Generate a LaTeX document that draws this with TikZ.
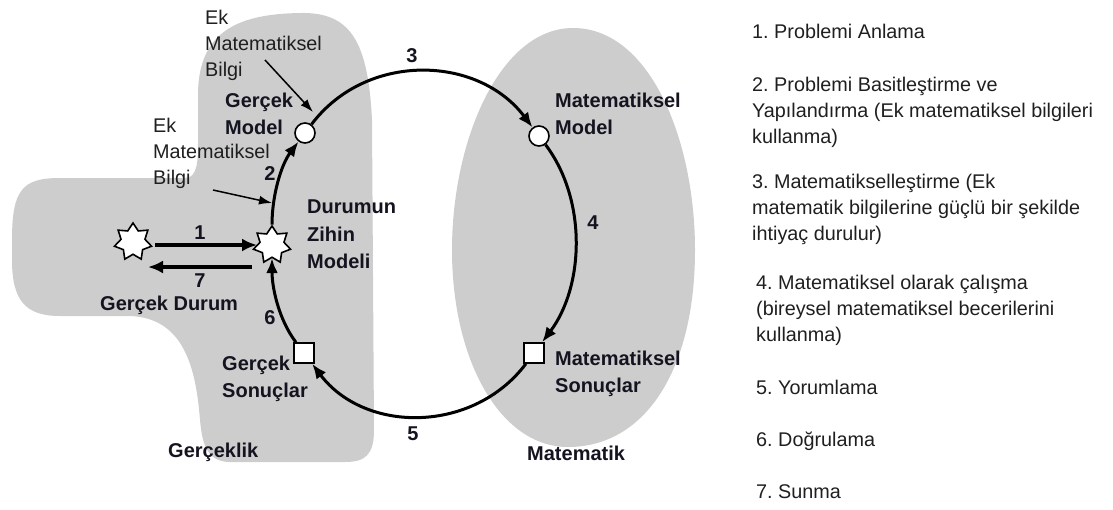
\documentclass[tikz,border=0pt]{standalone}
\usepackage{fontspec}
\setmainfont{Liberation Sans}
\usetikzlibrary{arrows.meta,shapes.geometric}
\definecolor{regionfill}{HTML}{CDCDCD}
\definecolor{inkdark}{HTML}{141420}
\frenchspacing
\begin{document}
\begin{tikzpicture}[x=1pt,y=1pt,
  region/.style={fill=regionfill,draw=none},
  lbl/.style={font=\fontsize{20}{27.5}\selectfont\bfseries,inner sep=0pt,align=left,text=inkdark},
  num/.style={font=\fontsize{20}{24}\selectfont\bfseries,inner sep=0pt,anchor=base,text=inkdark},
  note/.style={font=\fontsize{19.8}{26.3}\selectfont,inner sep=0pt,align=left,text=black!88},
  flow/.style={line width=3pt,-{Latex[length=15pt,width=12pt]}},
  side/.style={line width=3.6pt,-{Latex[length=15pt,width=13pt]}},
  hint/.style={line width=1.5pt,-{Latex[length=13pt,width=9pt]}},
  ring/.style={circle,draw,fill=white,line width=1.6pt,minimum size=20pt,inner sep=0pt},
  boxn/.style={rectangle,draw,fill=white,line width=1.6pt,minimum size=20pt,inner sep=0pt},
  spark/.style={star,star points=7,star point ratio=1.55,draw,fill=white,line width=1.6pt,minimum size=38pt,inner sep=0pt},
]
\useasboundingbox (0,0) rectangle (1113,-509);

% reality region
\fill[region] (12,-240)
  .. controls (12,-190) and (22,-178) .. (60,-178)
  -- (185,-178)
  .. controls (198,-178) and (198,-160) .. (198,-140)
  -- (198,-95)
  .. controls (198,-30) and (240,-14) .. (300,-13)
  .. controls (350,-12) and (368,-40) .. (372,-120)
  -- (374,-430)
  .. controls (374,-455) and (365,-462) .. (345,-462)
  -- (230,-462)
  .. controls (205,-462) and (202,-440) .. (200,-420)
  .. controls (196,-370) and (185,-318) .. (130,-316)
  -- (60,-316)
  .. controls (25,-316) and (12,-300) .. (12,-260)
  -- cycle;

% mathematics region
\fill[region] (573,-28)
  .. controls (650,-28) and (695,-140) .. (695,-250)
  .. controls (695,-370) and (645,-447) .. (568,-447)
  .. controls (500,-447) and (452,-360) .. (452,-250)
  .. controls (452,-140) and (500,-28) .. (573,-28);

% stages of the cycle
\node[spark] (ls) at (133,-242) {};
\node[spark] (rs) at (272,-245) {};
\node[ring] (gm) at (305,-133) {};
\node[ring] (mm) at (539,-136) {};
\node[boxn] (ms) at (534,-353) {};
\node[boxn] (gs) at (304,-353) {};

% labels
\node[lbl,anchor=north west] (tgm) at (225,-92.6) {Gerçek\\Model};
\node[lbl,anchor=north west] (trs) at (307,-199.6) {Durumun\\Zihin\\Modeli};
\node[lbl,anchor=base west] (tls) at (100,-310) {Gerçek Durum};
\node[lbl,anchor=north west] (tgs) at (222,-355.6) {Gerçek\\Sonuçlar};
\node[lbl,anchor=base west] (treal) at (168,-457) {Gerçeklik};
\node[lbl,anchor=north west] (tmm) at (555,-92.6) {Matematiksel\\Model};
\node[lbl,anchor=north west] (tms) at (555,-350.6) {Matematiksel\\Sonuçlar};
\node[lbl,anchor=base west] (tmath) at (527,-460) {Matematik};

\node[note,anchor=north west] (ek1) at (205,-9.8) {Ek\\Matematiksel\\Bilgi};
\node[note,anchor=north west] (ek2) at (153,-117.8) {Ek\\Matematiksel\\Bilgi};

% step numbers
\node[num] (n1) at (200,-239) {1};
\node[num] (n2) at (270,-180) {2};
\node[num] (n3) at (412,-62) {3};
\node[num] (n4) at (593,-229) {4};
\node[num] (n5) at (413,-440) {5};
\node[num] (n6) at (270,-324) {6};
\node[num] (n7) at (200,-287) {7};

% connectors
\draw[side] ([shift={(22,-3)}]ls.center) -- ([shift={(-15,0)}]rs.center);
\draw[side] ([shift={(-20,-22)}]rs.center) -- ([shift={(15,-25)}]ls.center);
\draw[flow] (rs) to[out=90,in=233,looseness=0.85] (gm);
\draw[flow] (gm) to[out=53,in=127,looseness=1.05] (mm);
\draw[flow] (mm) to[out=-53,in=53,looseness=0.9] (ms);
\draw[flow] (ms) to[out=233,in=-53,looseness=1.05] (gs);
\draw[flow] (gs) to[out=127,in=270,looseness=0.85] (rs);

\coordinate (e1a) at (265,-60);
\coordinate (e1b) at (313,-112);
\coordinate (e2a) at (213,-190);
\coordinate (e2b) at (272,-203);
\draw[hint] (e1a) -- (e1b);
\draw[hint] (e2a) -- (e2b);

% legend of the steps
\node[note,anchor=base west] (s1) at (752,-38) {1. Problemi Anlama};
\node[note,anchor=north west] (s2) at (752,-76.8) {2. Problemi Basitleştirme ve\\Yapılandırma (Ek matematiksel bilgileri\\kullanma)};
\node[note,anchor=north west] (s3) at (752,-173.8) {3. Matematikselleştirme (Ek\\matematik bilgilerine güçlü bir şekilde\\ihtiyaç durulur)};
\node[note,anchor=north west] (s4) at (756,-274.8) {4. Matematiksel olarak çalışma\\(bireysel matematiksel becerilerini\\kullanma)};
\node[note,anchor=base west] (s5) at (756,-394) {5. Yorumlama};
\node[note,anchor=base west] (s6) at (756,-446) {6. Doğrulama};
\node[note,anchor=base west] (s7) at (756,-498) {7. Sunma};
\end{tikzpicture}
\end{document}
